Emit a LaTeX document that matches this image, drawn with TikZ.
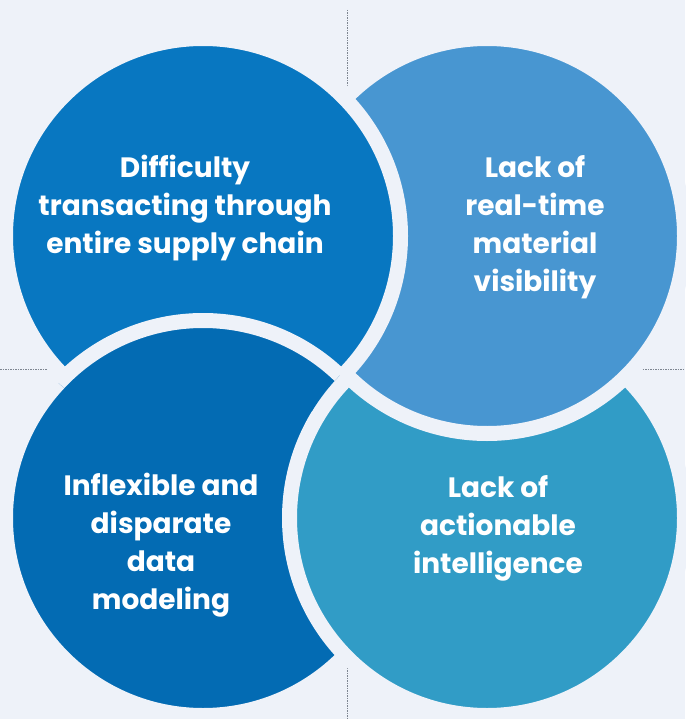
\documentclass[tikz,border=0pt]{standalone}
\usepackage{fontspec}
\setmainfont{Poppins}
\usepackage{xcolor}
\definecolor{bgc}{HTML}{EEF2F9}
\definecolor{tlc}{HTML}{0877C1}
\definecolor{trc}{HTML}{4896D1}
\definecolor{blc}{HTML}{036BB3}
\definecolor{brc}{HTML}{319CC6}
\definecolor{linec}{HTML}{7D8590}
\begin{document}
\begin{tikzpicture}[x=1pt, y=-1pt,
        blob/.style = {circle, draw=bgc, line width=15pt, minimum size=395pt, inner sep=0pt, outer sep=0pt},
        txt/.style = {text=white, align=center, font=\bfseries\fontsize{28}{38}\selectfont},
        dotline/.style = {linec, line width=0.9pt, dash pattern=on 1.5pt off 1pt}]
    \useasboundingbox (0,0) rectangle (685,719);
    \fill[bgc] (0,0) rectangle (685,719);

    \coordinate (vtop) at (347,10);
    \coordinate (vbot) at (347,719);
    \coordinate (hl) at (0,369);
    \coordinate (hr) at (685,369);
    \draw[dotline] (vtop) -- (vbot);
    \draw[dotline] (hl) -- (hr);

    \node[blob, fill=blc] (bl) at (203,518) {};
    \node[blob, fill=brc] (br) at (487,518) {};
    \node[blob, fill=trc] (tr) at (487,236) {};
    \node[blob, fill=tlc] (tl) at (203,236) {};

    % bottom left goes over top left again, but stays under bottom right
    \begin{scope}
        \clip (tl.center) circle [radius=206pt];
        \clip (0,0) -- (487,0) -- ([yshift=205pt]br.center)
            arc [start angle=90, end angle=180, radius=205pt] -- (282,719) -- (0,719) -- cycle;
        \node[blob, fill=blc] (blagain) at (bl.center) {};
    \end{scope}

    \node[txt] (tltext) at (185,208) {Difficulty\\transacting through\\entire supply chain};
    \node[txt] (trtext) at (535,227) {Lack of\\real-time\\material\\visibility};
    \node[txt] (bltext) at (161,545) {Inflexible and\\disparate\\data\\modeling};
    \node[txt] (brtext) at (498,528) {Lack of\\actionable\\intelligence};
\end{tikzpicture}
\end{document}
